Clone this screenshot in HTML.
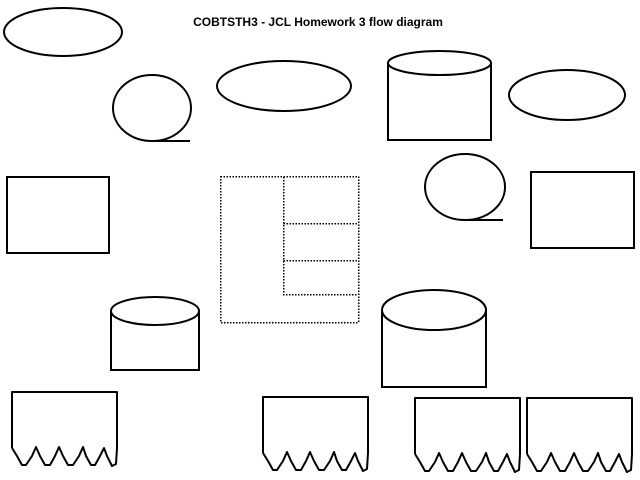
<!DOCTYPE html>
<html><head><style>body{margin:0;background:#fff}svg{display:block}</style></head>
<body>
<svg width="640" height="480" xmlns="http://www.w3.org/2000/svg">
<defs>
<g id="tape" fill="none" stroke="#000" stroke-width="2" stroke-linejoin="round">
<path d="M0,56 L0,0 L105,0 L105,56 L104,72 L100,74 L95,64 L92,56 L88,64 L83,73 L79,73 L74,64 L71,55 L67,64 L61,73 L56,73 L51,64 L47,55 L43,64 L38,73 L33,73 L28,64 L24,55 L20,64 L14,73 L10,73 L5,64 L0,56"/>
</g>
</defs>
<text x="318" y="26" text-anchor="middle" font-family="Liberation Sans, sans-serif" font-weight="bold" font-size="12">COBTSTH3 - JCL Homework 3 flow diagram</text>
<g fill="none" stroke="#000" stroke-width="2">
<ellipse cx="63" cy="32" rx="59" ry="24"/>
<ellipse cx="152" cy="108" rx="39" ry="33"/>
<path d="M152,141 L190,141"/>
<ellipse cx="284" cy="86" rx="67" ry="25"/>
<path d="M388,63 L388,140 L491,140 L491,63"/>
<ellipse cx="439.5" cy="63" rx="51.5" ry="12"/>
<ellipse cx="567" cy="95" rx="58" ry="25"/>
<rect x="7" y="177" width="102" height="76"/>
<ellipse cx="465" cy="187" rx="40" ry="33"/>
<path d="M465,220 L503,220"/>
<rect x="531" y="172" width="103" height="76"/>
<path d="M111,311 L111,370 L199,370 L199,311"/>
<ellipse cx="155" cy="311" rx="44" ry="14"/>
<path d="M382,310 L382,387 L486,387 L486,310"/>
<ellipse cx="434" cy="310" rx="52" ry="20"/>
</g>
<g fill="none" stroke="#000" stroke-width="1.5" stroke-dasharray="1.5,1.5" shape-rendering="crispEdges">
<rect x="220.5" y="176.5" width="138" height="146"/>
<path d="M283.5,177 L283.5,294.5 L358,294.5 M283.5,223.5 L358,223.5 M283.5,260.5 L358,260.5"/>
</g>
<use href="#tape" x="12" y="392"/>
<use href="#tape" x="263" y="397"/>
<use href="#tape" x="415" y="398"/>
<use href="#tape" x="527" y="398"/>
</svg>
</body></html>
